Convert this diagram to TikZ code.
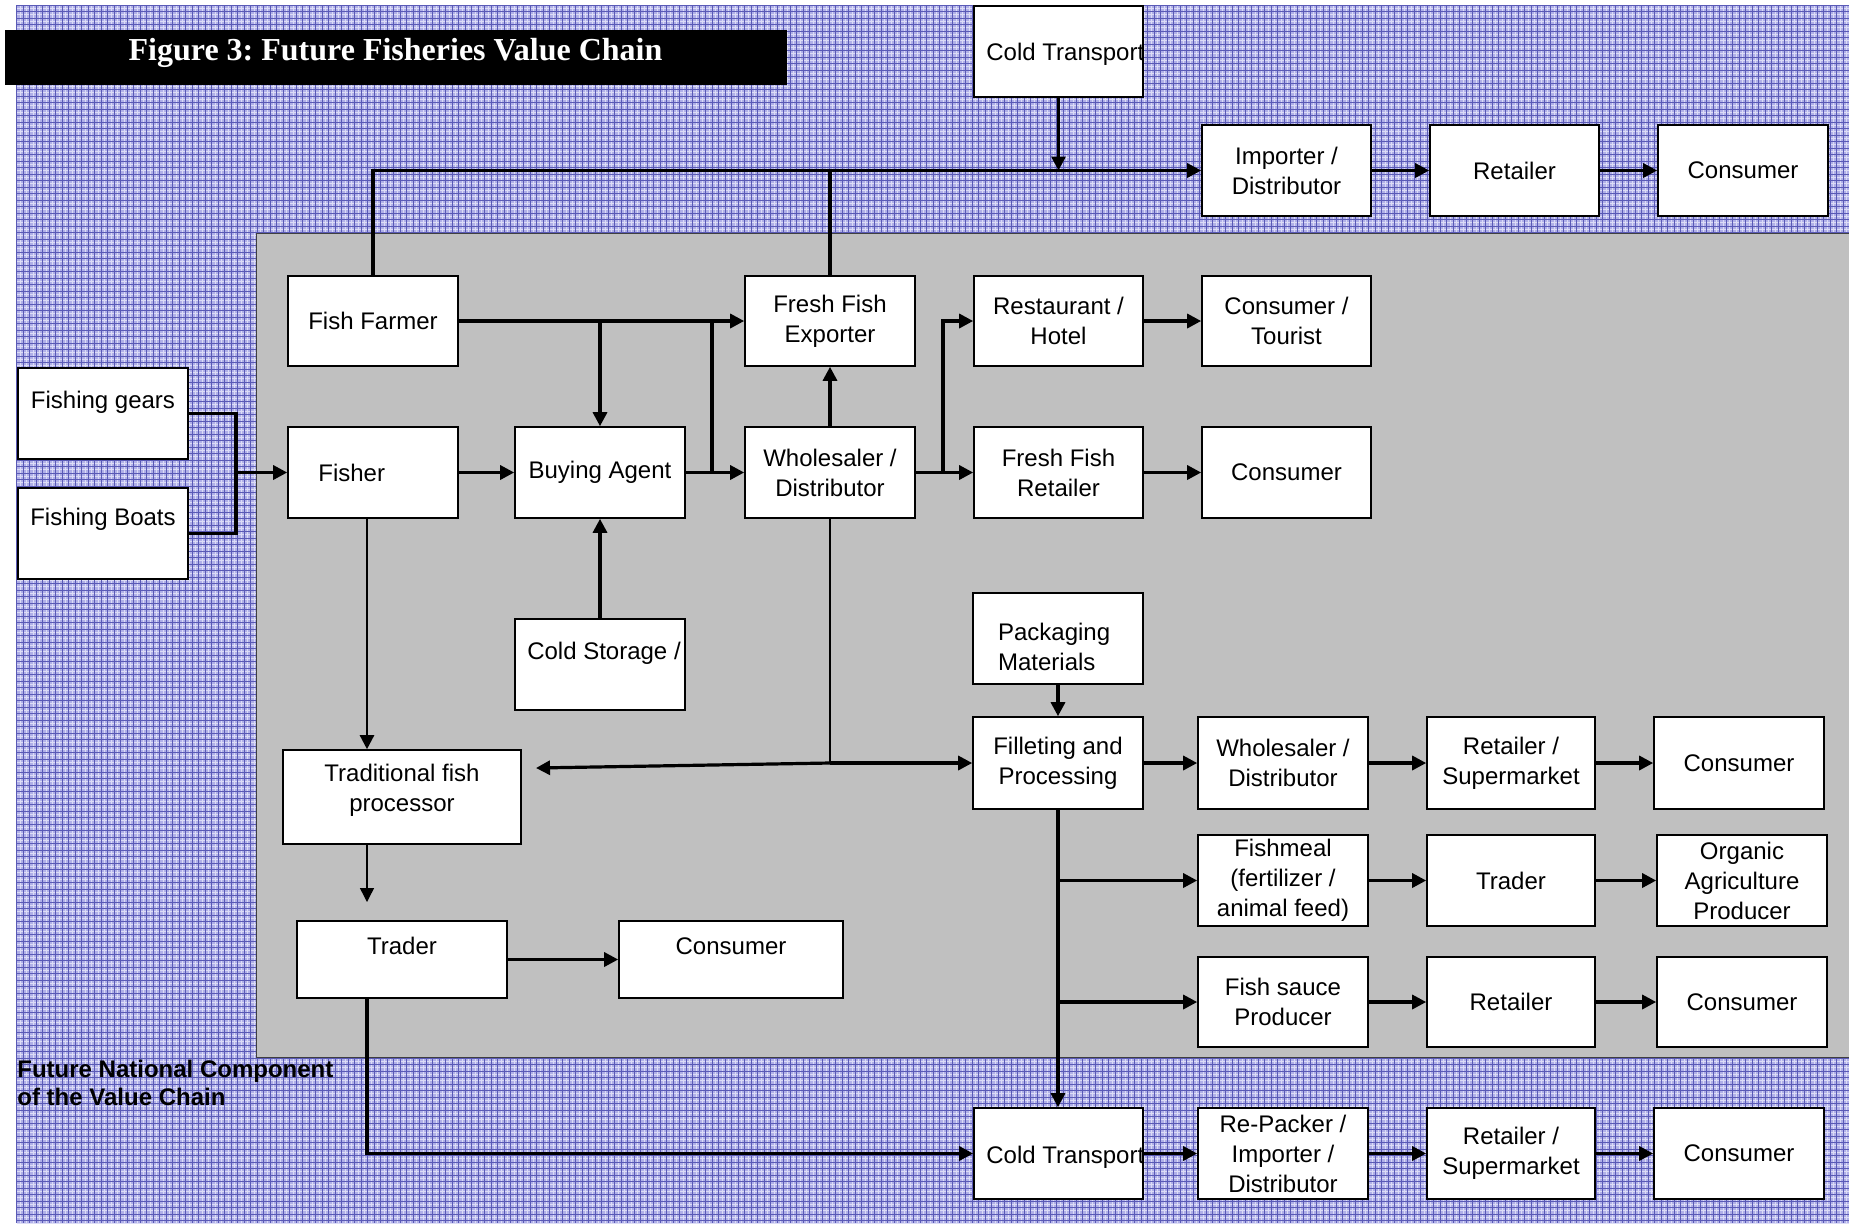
\documentclass[tikz,border=0pt]{standalone}
\usepackage{fontspec}
\setmainfont{Liberation Sans}
\newfontfamily\titlefont{Liberation Serif}
\usetikzlibrary{arrows.meta,fit}
\frenchspacing

\definecolor{gridbase}{RGB}{176,176,232}
\definecolor{gridline}{RGB}{90,90,182}
\definecolor{gridlight}{RGB}{220,220,246}
\definecolor{panelgrey}{RGB}{192,192,192}

\tikzset{
  chainbox/.style={draw=black, fill=white, line width=0.8pt, inner sep=0pt,
    align=center, font=\fontsize{12}{15}\selectfont},
  boxtext/.style={inner sep=0pt, font=\fontsize{12}{15}\selectfont},
  flow/.style={line width=1.6pt, -{Triangle[length=7pt,width=7pt]}},
  stem/.style={line width=1.2pt},
  link/.style={line width=1.6pt},
  thinflow/.style={line width=0.7pt, -{Triangle[length=7pt,width=7pt]}},
  gridln/.style={draw=gridline, line width=0.45pt},
  gridlt/.style={draw=gridlight, line width=0.35pt},
}

% box given by its two corners (in half-points)
\newcommand{\vcbox}[6]{%
  \pgfmathsetmacro\vcw{(#4-#2)/2}%
  \pgfmathsetmacro\vch{(#5-#3)/2}%
  \node[chainbox, minimum width=\vcw pt, minimum height=\vch pt]
    (#1) at ({(#2+#4)/2},{(#3+#5)/2}) {#6};}

\begin{document}
\begin{tikzpicture}[x=0.5pt,y=-0.5pt]
\useasboundingbox (0,0) rectangle (1849,1223);
\fill[white] (0,0) rectangle (1849,1223);

% patterned background
\fill[gridbase] (16.7,5) rectangle (1849,1223);
\foreach \k in {0,...,281} \draw[gridlt] ({19.95+6.5*\k},5) -- ({19.95+6.5*\k},1223);
\foreach \k in {0,...,187} \draw[gridlt] (16.7,{8.25+6.5*\k}) -- (1849,{8.25+6.5*\k});
\foreach \k in {0,...,281} \draw[gridln] ({16.7+6.5*\k},5) -- ({16.7+6.5*\k},1223);
\foreach \k in {0,...,187} \draw[gridln] (16.7,{5+6.5*\k}) -- (1849,{5+6.5*\k});

% national component panel
\node[fill=panelgrey, draw=black!75, line width=0.5pt, inner sep=0pt,
      fit={(256,233.5) (1856,1057)}] (panel) {};

% title bar
\node[fill=black, inner sep=0pt, fit={(4.7,29.5) (786.5,85)}] (titlebar) {};
\node[anchor=base, text=white, inner sep=0pt,
      font=\titlefont\bfseries\fontsize{16}{19}\selectfont] (title) at (395.5,60)
      {Figure 3: Future Fisheries Value Chain};

% panel caption
\node[anchor=north west, align=left, inner sep=0pt,
      font=\bfseries\fontsize{12}{13.7}\selectfont] (caption) at (17,1060)
      {Future National Component\\of the Value Chain};

% ---- boxes ----
\vcbox{ct1}{974}{6}{1143}{97}{}
\vcbox{imp}{1202}{125}{1371}{216}{Importer /\\Distributor}
\vcbox{ret1}{1430}{125}{1599}{216}{Retailer}
\vcbox{con1}{1658}{125}{1828}{216}{Consumer}

\vcbox{farmer}{288}{276}{458}{366}{Fish Farmer}
\vcbox{exporter}{745}{276}{915}{366}{Fresh Fish\\Exporter}
\vcbox{rest}{974}{276}{1143}{366}{Restaurant /\\Hotel}
\vcbox{tourist}{1202}{276}{1371}{366}{Consumer /\\Tourist}

\vcbox{gears}{18}{368}{188}{459}{}
\vcbox{boats}{18}{488}{188}{579}{}
\vcbox{fisher}{288}{427}{458}{518}{}
\vcbox{agent}{515}{427}{685}{518}{Buying Agent}
\vcbox{whole}{745}{427}{915}{518}{Wholesaler /\\Distributor}
\vcbox{fretail}{974}{427}{1143}{518}{Fresh Fish\\Retailer}
\vcbox{con2}{1202}{427}{1371}{518}{Consumer}

\vcbox{storage}{515}{619}{685}{710}{}
\vcbox{pack}{973}{593}{1143}{684}{}
\vcbox{trad}{283}{750}{521}{844}{}

\vcbox{fillet}{973}{717}{1143}{809}{Filleting and\\Processing}
\vcbox{whole2}{1198}{717}{1368}{809}{Wholesaler /\\Distributor}
\vcbox{retsup}{1427}{717}{1595}{809}{Retailer /\\Supermarket}
\vcbox{con4}{1654}{717}{1824}{809}{Consumer}

\vcbox{fishmeal}{1198}{835}{1368}{926}{Fishmeal\\(fertilizer /\\animal feed)}
\vcbox{trader2}{1427}{835}{1595}{926}{Trader}
\vcbox{organic}{1657}{835}{1827}{926}{Organic\\Agriculture\\Producer}

\vcbox{trader}{297}{921}{507}{998}{}
\vcbox{con3}{619}{921}{843}{998}{}

\vcbox{sauce}{1198}{957}{1368}{1047}{Fish sauce\\Producer}
\vcbox{ret3}{1427}{957}{1595}{1047}{Retailer}
\vcbox{con5}{1657}{957}{1827}{1047}{Consumer}

\vcbox{ct2}{974}{1108}{1143}{1199}{}
\vcbox{repack}{1198}{1108}{1368}{1199}{Re-Packer /\\Importer /\\Distributor}
\vcbox{retsup2}{1427}{1108}{1595}{1199}{Retailer /\\Supermarket}
\vcbox{con6}{1654}{1108}{1824}{1199}{Consumer}

% labels set off-centre inside their boxes
\node[boxtext, anchor=base west] (ct1-t) at (986,60) {Cold Transport};
\node[boxtext, anchor=base west] (ct2-t) at (986,1163) {Cold Transport};
\node[boxtext, anchor=base] (gears-t) at (103,408.5) {Fishing gears};
\node[boxtext, anchor=base] (boats-t) at (103,525) {Fishing Boats};
\node[boxtext, anchor=base west] (fisher-t) at (318,481.5) {Fisher};
\node[boxtext, anchor=base] (storage-t) at (604,659.5) {Cold Storage /};
\node[boxtext, anchor=base] (trader-t) at (402,954.5) {Trader};
\node[boxtext, anchor=base] (con3-t) at (731,954.5) {Consumer};
\node[boxtext, align=center] (trad-t) at (402,790.5) {Traditional fish\\processor};
\node[boxtext, align=left, anchor=north west] (pack-t) at (997.7,622.5) {Packaging\\Materials};

% ---- connectors ----
% export line along the top
\draw[flow] (farmer.north) |- (imp.west);
\draw[link] (exporter.north) -- (exporter.north |- imp.west);
\draw[flow] (ct1.south) -- (ct1.south |- imp.west);
\draw[flow] (imp.east) -- (imp.east -| ret1.west);
\draw[flow] (ret1.east) -- (ret1.east -| con1.west);

% fish farmer and buying agent
\draw[flow] (farmer.east) -- (farmer.east -| exporter.west);
\draw[flow] (farmer.east -| agent.north) -- (agent.north);
\coordinate (jv) at (712,321);
\draw[link] (jv |- farmer.east) -- (jv |- agent.east);
\draw[flow] (agent.east) -- (agent.east -| whole.west);
\draw[flow] (fisher.east) -- (fisher.east -| agent.west);
\draw[flow] (storage.north) -- (agent.south);
\draw[flow] (whole.north) -- (exporter.south);

% inputs to the fisher
\coordinate (gj) at (236,472.5);
\draw[link] (gears.east) -| (gj) |- (boats.east);
\draw[flow] (gj) -- (gj -| fisher.west);

% wholesaler outlets
\coordinate (wj) at (943,472.5);
\draw[flow] (whole.east) -- (whole.east -| fretail.west);
\draw[flow] (wj) |- (rest.west);
\draw[flow] (rest.east) -- (rest.east -| tourist.west);
\draw[flow] (fretail.east) -- (fretail.east -| con2.west);

% wholesaler to processors
\coordinate (wb) at (whole.south |- fillet.west);
\coordinate (tradtip) at (536,768);
\draw[stem] (whole.south) -- (wb);
\draw[flow] (wb) -- (fillet.west);
\draw[flow] (wb) -- (tradtip);

% traditional chain
\coordinate (fx) at (367,0);
\draw[flow, line width=1.2pt] (fisher.south -| fx) -- (trad.north -| fx);
\coordinate (tradtip2) at (367,902);
\draw[thinflow] (trad.south -| fx) -- (tradtip2);
\draw[flow] (trader.east) -- (trader.east -| con3.west);
\draw[flow] (trader.south -| fx) |- (ct2.west);

% processing branches
\draw[flow] (pack.south) -- (fillet.north);
\draw[flow] (fillet.south) -- (fillet.south |- ct2.north);
\draw[flow] (fillet.south |- fishmeal.west) -- (fishmeal.west);
\draw[flow] (fillet.south |- sauce.west) -- (sauce.west);
\draw[flow] (fillet.east) -- (fillet.east -| whole2.west);
\draw[flow] (whole2.east) -- (whole2.east -| retsup.west);
\draw[flow] (retsup.east) -- (retsup.east -| con4.west);
\draw[flow] (fishmeal.east) -- (fishmeal.east -| trader2.west);
\draw[flow] (trader2.east) -- (trader2.east -| organic.west);
\draw[flow] (sauce.east) -- (sauce.east -| ret3.west);
\draw[flow] (ret3.east) -- (ret3.east -| con5.west);
\draw[flow] (ct2.east) -- (ct2.east -| repack.west);
\draw[flow] (repack.east) -- (repack.east -| retsup2.west);
\draw[flow] (retsup2.east) -- (retsup2.east -| con6.west);
\end{tikzpicture}
\end{document}
